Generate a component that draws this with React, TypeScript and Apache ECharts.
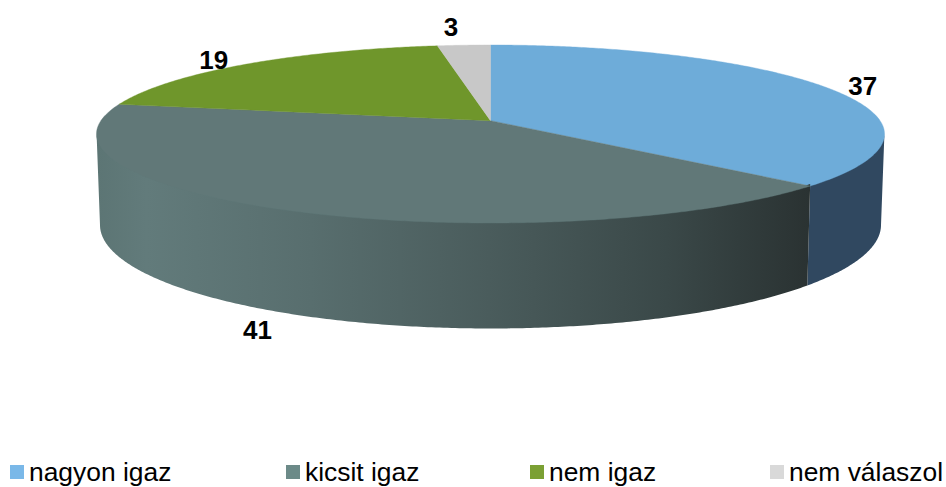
import React, { useEffect, useRef } from "react";
import * as echarts from "echarts";

const categories = ["nagyon igaz", "kicsit igaz", "nem igaz", "nem válaszol"];
const shares = [36.8, 41.3, 19.4, 2.5];
const legendColors = ["#7ab8e8", "#6c8a88", "#7ba034", "#d9d9d9"];
const legendLeft = [10, 286, 530, 770];
const topColors = ["#6eacd9", "#617878", "#6f962b", "#c8c8c8"];
const sideStops = [
  [{ offset: 0, color: "#304860" }, { offset: 1, color: "#304860" }],
  [
    { offset: 0, color: "#5c7574" },
    { offset: 0.07, color: "#627b7b" },
    { offset: 0.3, color: "#586e6e" },
    { offset: 0.55, color: "#4a5c5c" },
    { offset: 0.8, color: "#3a4848" },
    { offset: 1, color: "#2a3232" },
  ],
  null,
  null,
];
const labelNudge = [
  [36, -2],
  [-30, 120],
  [-33, -4],
  [-13, -18],
];

const CX = 490.5;
const TOP = { rx: 394, cy: 134, ry: 89 };
const BOTTOM = { rx: 390.5, cy: 225, ry: 103.5 };
const K = 0.15; // perspective shift of the pie centre inside the ellipse

// perspective projection of a point of the unit disc
function disc(deg: number, r = 1): [number, number] {
  const a = (deg * Math.PI) / 180;
  const x = r * Math.sin(a);
  const y = r * Math.cos(a);
  const d = 1 + K * y;
  return [(x * Math.sqrt(1 - K * K)) / d, (y + K) / d];
}
const onTop = (p: [number, number]) => [CX + TOP.rx * p[0], TOP.cy - TOP.ry * p[1]];
const onBottom = (p: [number, number]) => [CX + BOTTOM.rx * p[0], BOTTOM.cy - BOTTOM.ry * p[1]];

const FRONT_FROM = (Math.acos(-K) * 180) / Math.PI;
const FRONT_TO = 360 - FRONT_FROM;

function sweep(from: number, to: number) {
  const out: number[] = [];
  const n = Math.max(2, Math.ceil((to - from) / 0.5));
  for (let i = 0; i <= n; i++) out.push(from + ((to - from) * i) / n);
  return out;
}

export default function App() {
  const ref = useRef<HTMLDivElement>(null);
  useEffect(() => {
    const chart = echarts.init(ref.current!, undefined, { renderer: "svg" });
    let start = 0;
    const series = categories.map((name, idx) => {
      const from = start;
      start += shares[idx];
      return {
        type: "custom",
        name,
        coordinateSystem: "none",
        silent: true,
        itemStyle: { color: legendColors[idx] },
        data: [[from, shares[idx]]],
        renderItem: (_p: any, api: any) => {
          const a0 = (api.value(0) / 100) * 360;
          const a1 = a0 + (api.value(1) / 100) * 360;
          const children: any[] = [];
          const s0 = Math.max(a0, FRONT_FROM);
          const s1 = Math.min(a1, FRONT_TO);
          const stops = sideStops[idx];
          if (s1 > s0 && stops) {
            const angs = sweep(s0, s1);
            // the upper edge runs a little under the top face, so no pale seam shows
            const upper = angs.map((d) => {
              const p = onTop(disc(d));
              return [p[0], p[1] - 2];
            });
            const lower = angs.map((d) => onBottom(disc(d))).reverse();
            children.push({
              type: "polygon",
              shape: { points: [...upper, ...lower] },
              style: {
                fill: new echarts.graphic.LinearGradient(0, 0, 1, 0, stops as any),
                stroke: "none",
              },
            });
          }
          const rim = sweep(a0, a1).map((d) => onTop(disc(d)));
          const apex = onTop(disc(0, 0));
          children.push({
            type: "polygon",
            shape: { points: [apex, ...rim] },
            style: { fill: topColors[idx], stroke: topColors[idx], lineWidth: 0.4 },
          });
          const mid = onTop(disc((a0 + a1) / 2));
          children.push({
            type: "text",
            z2: 10,
            style: {
              text: String(Math.round(api.value(1))),
              x: mid[0] + labelNudge[idx][0],
              y: mid[1] + labelNudge[idx][1],
              align: "center",
              verticalAlign: "middle",
              fill: "#000",
              fontFamily: "Liberation Sans",
              fontWeight: "bold",
              fontSize: 26,
            },
          });
          return { type: "group", children };
        },
      };
    });
    chart.setOption({
      animation: false,
      backgroundColor: "#fff",
      legend: categories.map((name, idx) => ({
        show: true,
        data: [name],
        left: legendLeft[idx],
        top: 459,
        orient: "horizontal",
        itemWidth: 14,
        itemHeight: 14,
        icon: "rect",
        selectedMode: false,
        padding: 0,
        textStyle: {
          fontFamily: "Liberation Sans",
          fontSize: 26.4,
          color: "#000",
          padding: 0,
        },
      })),
      series,
    });
    return () => chart.dispose();
  }, []);
  return (
    <div
      ref={ref}
      style={{ position: "fixed", left: 0, top: 0, width: 946, height: 487 }}
    />
  );
}
